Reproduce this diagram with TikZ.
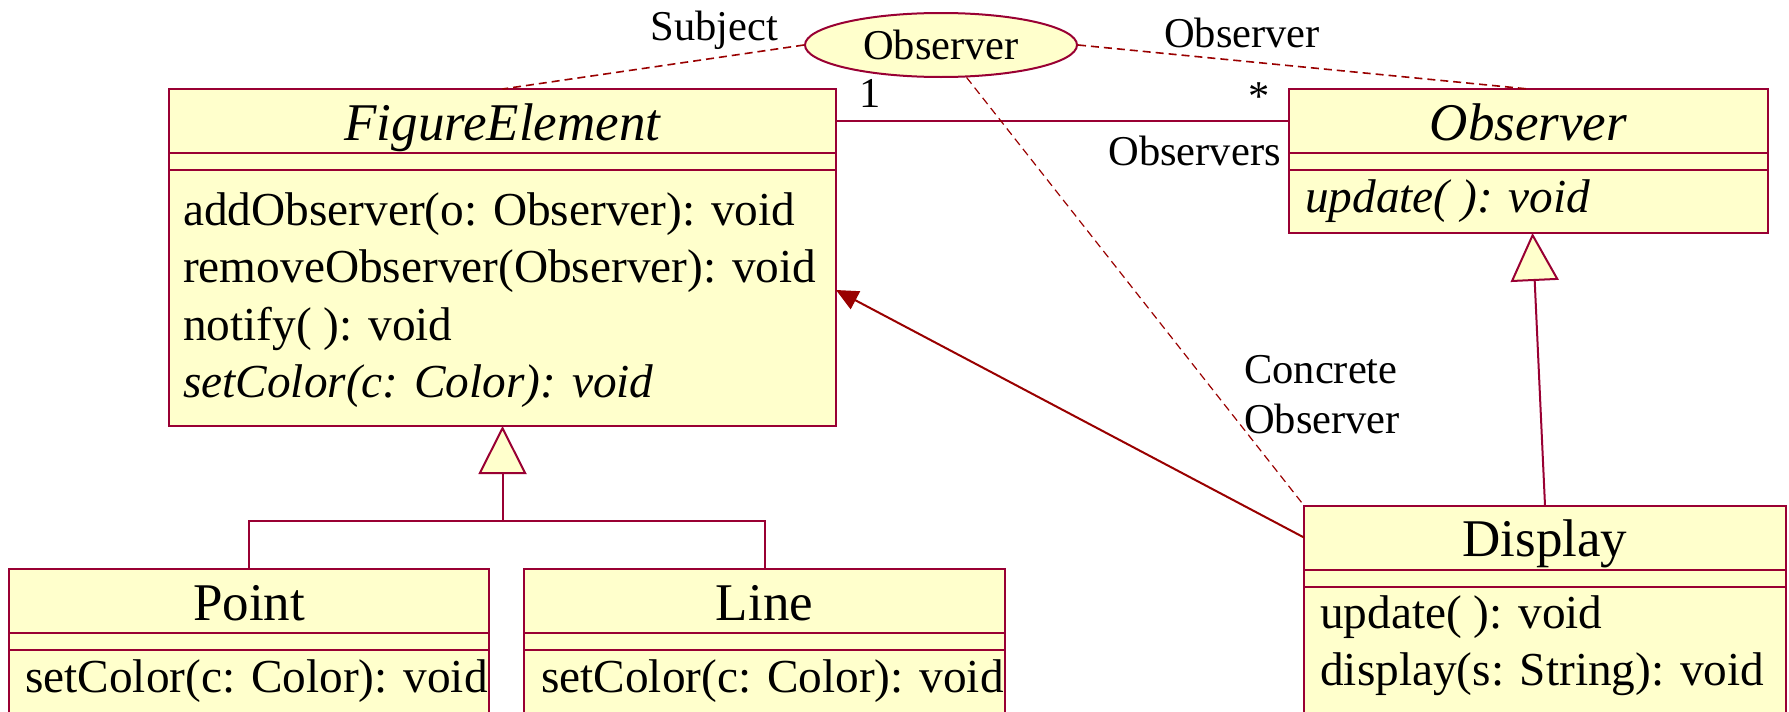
\documentclass[tikz,border=0pt]{standalone}
\usepackage{fontspec}
\setmainfont{Liberation Serif}
\usetikzlibrary{positioning,shapes.geometric,arrows.meta}
\definecolor{umlfill}{HTML}{FFFFCC}
\definecolor{umlborder}{HTML}{990033}
\definecolor{umllink}{HTML}{990000}

\begin{document}
\begin{tikzpicture}[x=1pt,y=-1pt,node distance=0pt,
  part/.style={draw=umlborder, fill=umlfill, line width=2pt, rectangle, inner sep=0pt, outer sep=0pt},
  namepart/.style={part, minimum height=64pt, text height=38pt, text depth=0pt, font=\fontsize{53}{60}\selectfont},
  attrpart/.style={part, minimum height=17pt},
  op/.style={anchor=base west, inner sep=0pt, font=\fontsize{47.3}{57}\selectfont},
  role/.style={inner sep=0pt, font=\fontsize{42.5}{51}\selectfont},
  collab/.style={draw=umllink, line width=1.6pt, dash pattern=on 8pt off 5pt},
  link/.style={draw=umlborder, line width=2pt},
  inherit/.style={link, -{Triangle[length=48pt, width=48pt, fill=umlfill]}},
  navigate/.style={draw=umllink, line width=2pt, -{Triangle[length=22pt, width=20pt]}}]
\useasboundingbox (0,0) rectangle (1789,712);
\clip (0,0) rectangle (1789,712);
\node[ellipse, draw=umlborder, fill=umlfill, line width=2pt, minimum width=272pt, minimum height=64pt, inner sep=0pt, font=\fontsize{42.5}{51}\selectfont] (obs) at (941,45) {Observer};
\node[role, anchor=base] (subjectlbl) at (714.5,40) {Subject};
\node[role, anchor=base] (observerlbl) at (1242,47) {Observer};
\node[namepart, minimum width=667pt] (fig) at (502.5,121) {\itshape FigureElement};
\node[attrpart, minimum width=667pt, below=of fig] (figattr) {};
\node[part, minimum width=667pt, minimum height=256pt, below=of figattr] (figops) {};
\node[op] (figop1) at (183,225) {addObserver(o: Observer): void};
\node[op] (figop2) at (183,282) {removeObserver(Observer): void};
\node[op] (figop3) at (183,340) {notify( ): void};
\node[op] (figop4) at (183,397) {\itshape setColor(c: Color): void};
\node[namepart, minimum width=479pt] (observer) at (1528.5,121) {\itshape Observer};
\node[attrpart, minimum width=479pt, below=of observer] (obsattr) {};
\node[part, minimum width=479pt, minimum height=63pt, below=of obsattr] (obsops) {};
\node[op] (obsop1) at (1305,212) {\itshape update( ): void};
\node[namepart, minimum width=480pt] (point) at (249,601) {Point};
\node[attrpart, minimum width=480pt, below=of point] (pointattr) {};
\node[part, minimum width=480pt, minimum height=91pt, below=of pointattr] (pointops) {};
\node[op] (pointop1) at (25,692) {setColor(c: Color): void};
\node[namepart, minimum width=481pt] (line) at (764.5,601) {Line};
\node[attrpart, minimum width=481pt, below=of line] (lineattr) {};
\node[part, minimum width=481pt, minimum height=91pt, below=of lineattr] (lineops) {};
\node[op] (lineop1) at (541,692) {setColor(c: Color): void};
\node[namepart, minimum width=482pt] (display) at (1545,537.5) {Display};
\node[attrpart, minimum width=482pt, below=of display] (dispattr) {};
\node[part, minimum width=482pt, minimum height=160pt, below=of dispattr] (dispops) {};
\node[op] (dispop1) at (1320,628) {update( ): void};
\node[op] (dispop2) at (1320,685) {display(s: String): void};
\node[role, anchor=base] (onelbl) at (870,107) {1};
\node[role, anchor=base] (manylbl) at (1259,110) {*};
\node[role, anchor=base east] (observerslbl) at (1281,165) {Observers};
\node[role, anchor=base west] (concretelbl) at (1244,383) {Concrete};
\node[role, anchor=base west] (concretelbl2) at (1244,433) {Observer};
\coordinate (fork) at (502.5,521);
\draw[link] (fig.east) -- (observer.west);
\draw[collab] (obs.west) -- (fig.north);
\draw[collab] (obs.east) -- (observer.north);
\draw[collab, line width=1.2pt] (obs) -- (display.north west);
\draw[navigate] (display.west) -- ([yshift=8pt]figops.east);
\draw[link] (point.north) |- (fork) -| (line.north);
\draw[inherit] (fork) -- (figops.south);
\draw[inherit] (display.north) -- ([xshift=4pt]obsops.south);
\end{tikzpicture}
\end{document}
